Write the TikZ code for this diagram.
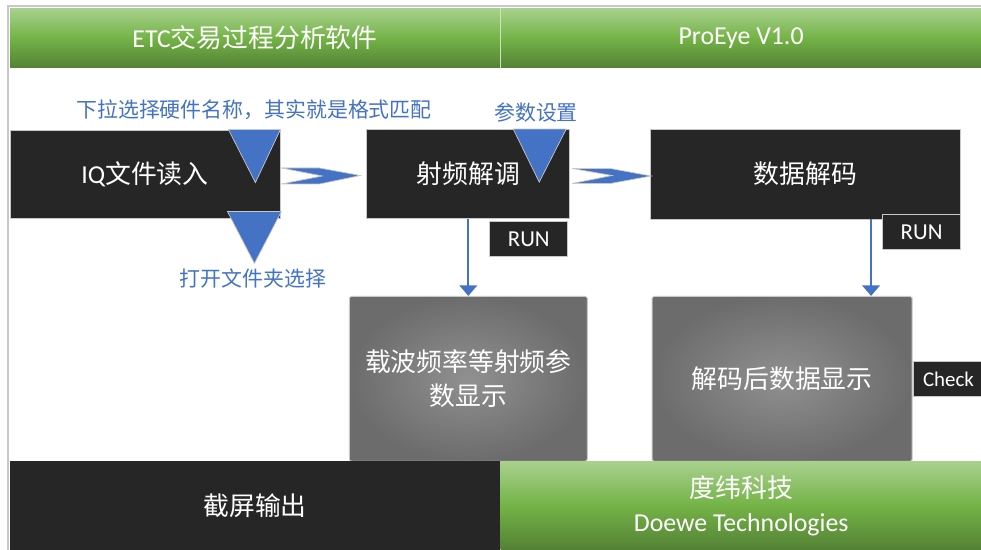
\documentclass[tikz,border=0pt]{standalone}
\usepackage{fontspec}
\setmainfont{Carlito}
\newfontfamily\cjk{Noto Sans CJK SC}
\usepackage{tikz}
\usetikzlibrary{arrows.meta,positioning,calc}

\definecolor{darkbg}{HTML}{262626}
\definecolor{edgegray}{HTML}{C8C8C8}
\definecolor{accent}{HTML}{4472C4}
\definecolor{greentop}{HTML}{A9D18E}
\definecolor{greenmid}{HTML}{74B347}
\definecolor{greenbot}{HTML}{538135}
\definecolor{graylight}{HTML}{909090}
\definecolor{graydark}{HTML}{6C6C6C}

\begin{document}
\begin{tikzpicture}[x=0.02cm,y=-0.02cm,text=white,
  font=\fontsize{14.7}{19.3}\selectfont,
  dark box/.style={rectangle,fill=darkbg,draw=edgegray,line width=0.5pt,inner sep=0pt},
  run box/.style={dark box,minimum width=1.56cm,minimum height=0.7cm,font=\fontsize{13}{15}\selectfont},
  gray box/.style={rectangle,inner color=graylight,outer color=graydark,draw=edgegray,
    line width=0.5pt,rounded corners=1pt,align=center,minimum height=3.3cm},
  green bar/.style={rectangle,top color=greentop,bottom color=greenbot,middle color=greenmid,
    inner sep=0pt,align=center},
  note/.style={text=accent,font=\cjk\fontsize{11.9}{14}\selectfont},
  pick/.style={fill=accent,draw=edgegray,line width=0.4pt},
  flow/.style={draw=accent,line width=1.2pt,-{Triangle[width=10pt,length=6pt]}}]
    \useasboundingbox (0,0) rectangle (981,550);
    \fill[white] (0,0) rectangle (981,550);
    \draw[edgegray,line width=1.5pt] (8,550) -- (8,6) -- (981,6);

    % header
    \node[green bar,minimum width=9.8cm,minimum height=1.2cm] (title) at (255,38) {ETC{\cjk 交易过程分析软件}};
    \node[green bar,minimum width=9.62cm,minimum height=1.2cm,right=0pt of title] (version) {ProEye V1.0};
    \draw[greentop!60!white,line width=0.4pt] (title.north east) -- (title.south east);

    % processing chain
    \node[dark box,minimum width=5.4cm,minimum height=1.76cm] (iq) at (145,174) {IQ{\cjk 文件读入}};
    \node[dark box,minimum width=4.06cm,minimum height=1.78cm,right=1.72cm of iq] (demod) {\cjk 射频解调};
    \node[dark box,minimum width=6.2cm,minimum height=1.8cm,right=1.6cm of demod] (decode) {\cjk 数据解码};
    \node[run box,below left=0.04cm and 0.04cm of demod.south east] (run1) {RUN};
    \node[run box,below left=-0.1cm and 0cm of decode.south east] (run2) {RUN};

    % displays
    \node[gray box,minimum width=4.76cm,below=1.54cm of demod] (params) {\cjk 载波频率等射频参\\\cjk 数显示};
    \node[gray box,minimum width=5.2cm,right=1.28cm of params] (datashow) {\cjk 解码后数据显示};
    \node[run box,minimum width=1.42cm,font=\fontsize{11.9}{14}\selectfont,right=0pt of datashow] (check) {Check};

    % footer
    \node[dark box,draw=none,minimum width=9.8cm,minimum height=1.78cm] (shot) at (255,505.5) {\cjk 截屏输出};
    \node[green bar,minimum width=9.62cm,minimum height=1.78cm,right=0pt of shot] (company) {\cjk 度纬科技\\Doewe Technologies};

    % drop-down picks
    \filldraw[pick] ($(iq.north east)+(-52,0)$) -- (iq.north east) -- ($(iq.north east)+(-25,53)$) -- cycle;
    \filldraw[pick] ($(iq.south east)+(-53,-7)$) -- ($(iq.south east)+(1,-7)$) -- ($(iq.south east)+(-26,45)$) -- cycle;
    \filldraw[pick] ($(demod.north east)+(-57,0)$) -- ($(demod.north east)+(-4,0)$) -- ($(demod.north east)+(-31,53)$) -- cycle;
    \node[note] (hwnote) at (254,110) {下拉选择硬件名称，其实就是格式匹配};
    \node[note] (dirnote) at (253,279) {打开文件夹选择};
    \node[note] (paramnote) at (536,113) {参数设置};

    % chevrons between stages
    \filldraw[pick] ($(iq.east)+(1,-6)$) -- ($(iq.east)+(39,-6)$) -- ($(demod.west)+(-6,1.5)$)
      -- ($(iq.east)+(39,10)$) -- ($(iq.east)+(1,10)$) -- ($(iq.east)+(42,2)$) -- cycle;
    \filldraw[pick] ($(demod.east)+(2,-5.5)$) -- ($(demod.east)+(40,-5.5)$) -- ($(decode.west)+(1,2)$)
      -- ($(demod.east)+(40,9.5)$) -- ($(demod.east)+(2,9.5)$) -- ($(demod.east)+(42,1.5)$) -- cycle;

    \draw[flow] (demod.south) -- (demod.south |- params.north);
    \draw[flow] ([xshift=-1.8cm]decode.south east) -- ([xshift=-1.8cm]decode.south east |- datashow.north);
\end{tikzpicture}
\end{document}
